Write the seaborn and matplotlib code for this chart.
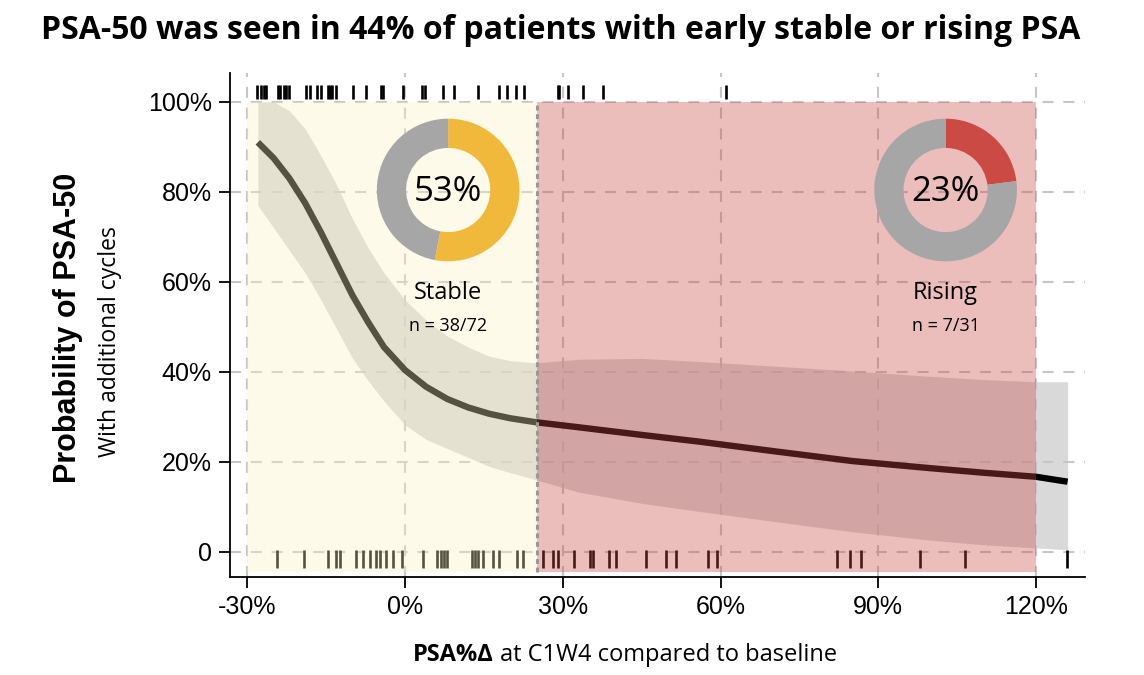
import numpy as np
import pandas as pd
import seaborn as sns
import matplotlib.pyplot as plt
from matplotlib.ticker import FuncFormatter

# fitted probability curve and its confidence band
psa_change = [-28, -25, -22, -19, -16, -13, -10, -7, -4, 0, 4, 8, 12, 16, 20, 25,
              33, 45, 56, 70, 85, 100, 110, 120, 126]
prob = [91, 87.5, 83, 77.5, 71, 64, 57, 51, 45.5, 40.4, 36.7, 34, 32.1, 30.7, 29.7, 28.8,
        27.7, 26, 24.5, 22.4, 20.2, 18.6, 17.6, 16.7, 15.6]
ci_high = [100, 100, 98, 94, 88, 81.5, 74, 67.5, 62, 56, 51.5, 48, 45.5, 43.5, 42.5, 42,
           42.8, 43, 42.3, 41.3, 40.2, 39, 38.3, 37.8, 37.8]
ci_low = [77, 72, 67, 62, 56, 49.5, 43, 38, 33.5, 28.2, 25, 23, 21, 19, 17.6, 16,
          13.3, 10.8, 9, 6.8, 4.5, 2.6, 1.6, 0.9, 0.5]

# individual patients (rug marks): PSA-50 reached (top) / not reached (bottom)
responders = [-28.1, -27.3, -26.9, -26.4, -24.2, -23.8, -23.1, -22.6, -22.0, -18.8, -18.1,
              -16.7, -16.0, -14.6, -14.3, -13.9, -13.1, -9.9, -7.4, -4.6, -4.2, -0.4, 3.3,
              3.8, 7.2, 9.3, 13.9, 17.9, 19.4, 21.1, 22.6, 29.0, 29.3, 31.0, 33.9, 37.7, 61.0]
non_responders = [-24.4, -19.3, -14.6, -13.1, -12.4, -9.3, -8.0, -6.7, -5.5, -4.8, -3.6,
                  -2.2, -0.6, 3.5, 6.1, 6.8, 7.4, 8.0, 12.7, 13.3, 13.9, 14.9, 16.8, 17.9,
                  21.2, 22.5, 26.3, 28.1, 29.1, 32.1, 35.2, 35.8, 38.7, 40.2, 45.9, 49.7,
                  51.6, 57.7, 59.3, 82.1, 84.6, 86.8, 97.9, 106.5, 125.8]

# groups
groups = ['Stable', 'Rising']
group_lo = [-30, 25]
group_hi = [25, 120]
group_rate = [53, 23]
group_n = ['n = 38/72', 'n = 7/31']
group_fill = ['#FCF3C1', '#C84845']
group_alpha = [0.34, 0.36]
donut_color = ['#F0B93B', '#CB4A43']
donut_rest = '#A6A6A6'

x_ticks = [-30, 0, 30, 60, 90, 120]
y_ticks = [0, 20, 40, 60, 80, 100]

sns.set_theme(style="white")
plt.rcParams['font.family'] = ['Liberation Sans', 'DejaVu Sans']
plt.rcParams['text.color'] = 'black'
plt.rcParams['xtick.color'] = 'black'
plt.rcParams['ytick.color'] = 'black'

fig = plt.figure(figsize=(11.44, 6.75), dpi=100)
ax = fig.add_axes([0.201, 0.1452, 0.7474, 0.7467])

# band + curve + rugs
ax.fill_between(psa_change, ci_low, ci_high, color='#D9D9D9', lw=0, zorder=1)
sns.lineplot(x=psa_change, y=prob, ax=ax, color='black', lw=4.6, zorder=2,
             solid_capstyle='butt')
ax.vlines(responders, 100.7, 103.8, colors='black', lw=1.9, zorder=2)
ax.vlines(non_responders, -3.6, 0.4, colors='black', lw=1.9, zorder=2)

# shaded group regions (drawn over the curve like the original)
for lo, hi, c, a in zip(group_lo, group_hi, group_fill, group_alpha):
    ax.fill_between([lo, hi], -4.4, 100, color=c, alpha=a, lw=0, zorder=3)
ax.vlines(group_lo[1], -4.4, 100, colors='#9B9795', lw=2.2,
          linestyles=(0, (1.6, 1.2)), zorder=4)

ax.set_xlim(-33.3, 129.3)
ax.set_ylim(-5.56, 106.4)
ax.set_xticks(x_ticks)
ax.set_yticks(y_ticks)
ax.xaxis.set_major_formatter(FuncFormatter(lambda v, p: f'{v:.0f}%'))
ax.yaxis.set_major_formatter(FuncFormatter(lambda v, p: '0' if v == 0 else f'{v:.0f}%'))
ax.set_axisbelow('line')
ax.grid(True, color='#C6C6C6', lw=1.5, ls=(0, (5.3, 4.7)))
for s in ['top', 'right']:
    ax.spines[s].set_visible(False)
for s in ['left', 'bottom']:
    ax.spines[s].set_color('black')
    ax.spines[s].set_linewidth(1.3)
ax.tick_params(axis='both', direction='out', length=8, width=1.3, color='black',
               labelcolor='black', labelsize=18, pad=5, bottom=True, left=True)

# donuts with group labels
donut_x = [8.2, 102.8]
for i, g in enumerate(groups):
    cx = donut_x[i]
    ins = ax.inset_axes([cx - 13.7, 80.4 - 16, 27.4, 32], transform=ax.transData, zorder=5)
    ins.pie([group_rate[i], 100 - group_rate[i]], colors=[donut_color[i], donut_rest],
            startangle=90, counterclock=False, radius=1,
            wedgeprops=dict(width=0.41, linewidth=0))
    ins.set_xlim(-1.01, 1.01)
    ins.set_ylim(-1.01, 1.01)
    ins.set_aspect('equal')
    ax.text(cx, 80.0, f'{group_rate[i]}%', ha='center', va='center', fontsize=25,
            family='Open Sans', zorder=6)
    ax.text(cx, 57.6, g, ha='center', va='center', fontsize=17, family='Open Sans', zorder=6)
    ax.text(cx, 50.2, group_n[i], ha='center', va='center', fontsize=13,
            family='Open Sans', zorder=6)

fig.text(0.490, 0.955, 'PSA-50 was seen in 44% of patients with early stable or rising PSA',
         ha='center', va='center', fontsize=23, fontweight='bold', family='Open Sans')
fig.text(68 / 1144, 1 - 328 / 675, 'Probability of PSA-50', rotation=90, ha='center',
         va='center', fontsize=22, fontweight='bold')
fig.text(110 / 1144, 1 - 342 / 675, 'With additional cycles', rotation=90, ha='center',
         va='center', fontsize=16.5, family='Open Sans')
fig.text(494 / 1144, 1 - 655 / 675, 'PSA%Δ', ha='right', va='center', fontsize=17,
         fontweight='bold', family=['Open Sans', 'DejaVu Sans'])
fig.text(500 / 1144, 1 - 655 / 675, 'at C1W4 compared to baseline', ha='left', va='center',
         fontsize=17, family='Open Sans')

fig.savefig('out.png', dpi=100)
